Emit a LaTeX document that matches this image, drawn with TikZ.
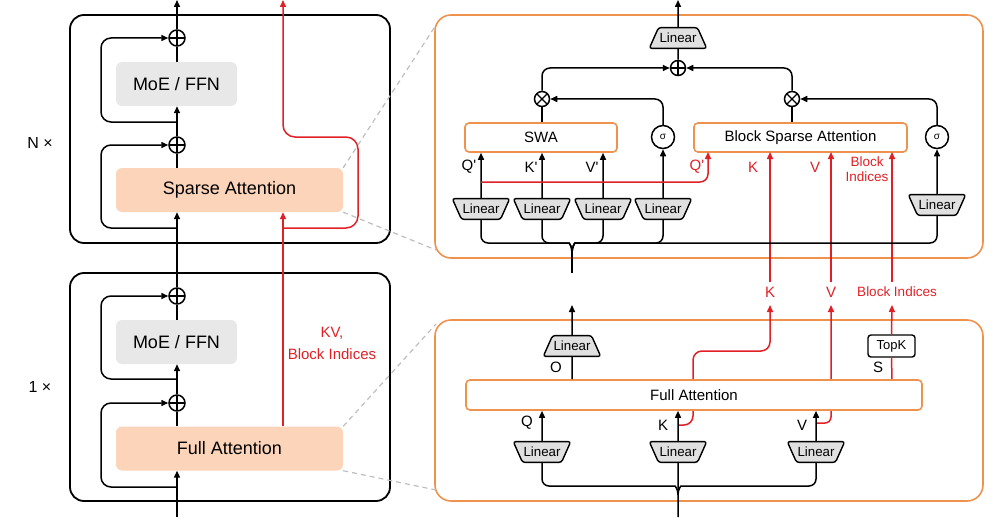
\documentclass[tikz,border=0pt]{standalone}
\usepackage{fontspec}
\setmainfont{Liberation Sans}
\usetikzlibrary{shapes.geometric,arrows.meta,calc}
\definecolor{orangec}{RGB}{238,146,78}
\definecolor{redc}{RGB}{225,32,38}
\definecolor{peach}{RGB}{251,212,185}
\definecolor{grayc}{RGB}{232,232,232}
\definecolor{linfill}{RGB}{224,224,224}
\definecolor{dashc}{RGB}{190,190,190}
\begin{document}
\begin{tikzpicture}[x=1pt,y=-1pt,
  ln/.style={line width=1.5pt,black},
  arr/.style={ln,-{Triangle[length=7pt,width=6pt]}},
  rln/.style={line width=1.5pt,redc},
  rarr/.style={rln,-{Triangle[length=7pt,width=6pt]}},
  outer/.style={draw,line width=1.8pt,rounded corners=14},
  obox/.style={draw=orangec,line width=1.6pt,rounded corners=16},
  bigbox/.style={rounded corners=6,minimum height=44,inner sep=0,font=\fontsize{18}{20}\selectfont},
  abox/.style={draw=orangec,fill=white,line width=1.6pt,rounded corners=4,minimum height=29,inner sep=0,font=\fontsize{15}{17}\selectfont},
  opl/.style={circle,draw,line width=1.5pt,minimum size=16,inner sep=0,
    path picture={\draw[line width=1.2pt] (path picture bounding box.north) -- (path picture bounding box.south)
      (path picture bounding box.west) -- (path picture bounding box.east);}},
  otm/.style={circle,draw,line width=1.5pt,minimum size=15,inner sep=0,
    path picture={\draw[line width=1.2pt] (path picture bounding box.north west) -- (path picture bounding box.south east)
      (path picture bounding box.north east) -- (path picture bounding box.south west);}},
  sig/.style={circle,draw,line width=1.5pt,minimum size=23,inner sep=0,font=\fontsize{10}{10}\selectfont},
  linU/.style={trapezium,trapezium angle=66,draw,line width=1.4pt,fill=linfill,
    rounded corners=2.5,inner xsep=1pt,inner ysep=5.5pt,font=\fontsize{13.3}{14}\selectfont},
  linD/.style={linU,trapezium left angle=114,trapezium right angle=114},
  lab/.style={inner sep=1,font=\fontsize{15}{16}\selectfont},
  rlab/.style={lab,text=redc},
  dsh/.style={draw=dashc,line width=1.2pt,dash pattern=on 5pt off 4pt}]
\useasboundingbox (0,0) rectangle (1000,532);

% ===== left panels =====
\draw[outer] (70,15) rectangle (390,243);
\draw[outer] (70,273) rectangle (390,501);
\node[font=\fontsize{16}{18}\selectfont] (nx) at (40,143) {N ×};
\node[font=\fontsize{16}{18}\selectfont] (ox) at (40,387) {1 ×};

% upper block
\node[opl] (p1) at (177,38) {};
\node[opl] (p2) at (177,145) {};
\node[bigbox,fill=grayc,minimum width=121] (moe1) at (176.5,84) {MoE / FFN};
\node[bigbox,fill=peach,minimum width=227] (sa) at (229.5,190) {Sparse Attention};
\coordinate (outL) at (177,0);
\draw[arr] (p1.north) -- (outL);
\draw[ln] (moe1.north -| p1) -- (p1.south);
\draw[arr] (p2.north) -- (moe1.south -| p2);
\draw[ln] (sa.north -| p2) -- (p2.south);
\draw[arr,rounded corners=10] (177,122) -- (101,122) -- (101,38) -- (p1.west);
\draw[arr,rounded corners=10] (177,228) -- (101,228) -- (101,145) -- (p2.west);

% lower block
\node[opl] (p3) at (177,296) {};
\node[opl] (p4) at (177,403) {};
\node[bigbox,fill=grayc,minimum width=121] (moe2) at (176.5,342) {MoE / FFN};
\node[bigbox,fill=peach,minimum width=227] (fa) at (229.5,448.5) {Full Attention};
\coordinate (inL) at (177,517);
\draw[arr] (inL) -- (fa.south -| p4);
\draw[ln] (fa.north -| p4) -- (p4.south);
\draw[arr] (p4.north) -- (moe2.south -| p4);
\draw[ln] (moe2.north -| p3) -- (p3.south);
\draw[arr] (p3.north) -- (sa.south -| p3);
\draw[arr,rounded corners=10] (177,379) -- (101,379) -- (101,296) -- (p3.west);
\draw[arr,rounded corners=10] (177,487) -- (101,487) -- (101,403) -- (p4.west);

% red path left
\coordinate (rx) at (283,0);
\draw[rarr] (fa.north -| rx) -- (sa.south -| rx);
\draw[rarr,rounded corners=12] (283,228) -- (358,228) -- (358,137) -- (283,137) -- (rx);
\node[rlab,align=center,font=\fontsize{15}{22}\selectfont] (kvl) at (332,343) {KV,\\Block Indices};

% ===== right top panel =====
\draw[obox] (435,15) rectangle (983,258);
\node[linU] (lo1) at (678,38) {Linear};
\coordinate (outR) at (678,0);
\draw[arr] (lo1.north) -- (outR);
\node[opl,minimum size=15] (pt) at (678,68) {};
\draw[ln] (pt.north) -- (lo1.south);
\node[otm] (ox1) at (542,99) {};
\node[otm] (ox2) at (792,99) {};
\draw[arr,rounded corners=8] (ox1.north) |- (pt.west);
\draw[arr,rounded corners=8] (ox2.north) |- (pt.east);
\node[abox,minimum width=152] (swa) at (541,137.5) {SWA};
\node[abox,minimum width=213] (bsa) at (800.5,137.5) {Block Sparse Attention};
\draw[ln] (swa.north -| ox1) -- (ox1.south);
\draw[ln] (bsa.north -| ox2) -- (ox2.south);
\node[sig] (sg1) at (663,137) {σ};
\node[sig] (sg2) at (937,137) {σ};
\draw[arr,rounded corners=8] (sg1.north) |- (ox1.east);
\draw[arr,rounded corners=8] (sg2.north) |- (ox2.east);

\node[linD] (l1) at (481,209) {Linear};
\node[linD] (l2) at (542,209) {Linear};
\node[linD] (l3) at (603,209) {Linear};
\node[linD] (l4) at (663,209) {Linear};
\node[linD] (l5) at (937,205) {Linear};
\draw[arr] (l1.north) -- (swa.south -| l1);
\draw[arr] (l2.north) -- (swa.south -| l2);
\draw[arr] (l3.north) -- (swa.south -| l3);
\draw[arr] (l4.north) -- (sg1.south);
\draw[arr] (l5.north) -- (sg2.south);
\node[lab] (qp) at (469,167) {Q\textquotesingle};
\node[lab] (kp) at (531,167) {K\textquotesingle};
\node[lab] (vp) at (592,167) {V\textquotesingle};

% red inputs of block sparse attention
\draw[rarr,rounded corners=8] (481,182) -- (708,182) -- (708,152);
\node[rlab] (qr) at (697,167) {Q\textquotesingle};
\node[rlab] (kr) at (753,167) {K};
\node[rlab] (vr) at (815,167) {V};
\node[rlab,align=center,font=\fontsize{13.5}{15}\selectfont] (bir) at (867,169.5) {Block\\Indices};
\draw[rarr] (770,282) -- (770,152);
\draw[rarr] (831,282) -- (831,152);
\draw[rarr] (892,282) -- (892,152);

% brace (top)
\coordinate (bt) at (572,273);
\coordinate (bc) at (572,253);
\draw[ln] (bt) -- (bc);
\draw[ln,rounded corners=7] (bc) .. controls (572,246) and (569,243) .. (562,243) -- (481,243) -- (l1.south);
\draw[ln,rounded corners=7] (bc) .. controls (572,246) and (569,243) .. (562,243) -- (542,243) -- (l2.south);
\draw[ln,rounded corners=7] (bc) .. controls (572,246) and (575,243) .. (582,243) -- (603,243) -- (l3.south);
\draw[ln,rounded corners=7] (bc) .. controls (572,246) and (575,243) .. (582,243) -- (663,243) -- (l4.south);
\draw[ln,rounded corners=7] (bc) .. controls (572,246) and (575,243) .. (582,243) -- (937,243) -- (l5.south);

% labels between panels
\node[rlab] (kl) at (770,292) {K};
\node[rlab] (vl) at (831,292) {V};
\node[rlab,font=\fontsize{13.5}{15}\selectfont] (bil) at (897,292) {Block Indices};

% ===== right bottom panel =====
\draw[obox] (435,320) rectangle (983,501);
\node[linU] (lo2) at (572,346) {Linear};
\node[linD] (lq) at (542,452) {Linear};
\node[linD] (lk) at (678,452) {Linear};
\node[linD] (lv) at (816,452) {Linear};
\node[draw,line width=1.4pt,fill=white,rounded corners=3,minimum width=47,minimum height=22,inner sep=0,
  font=\fontsize{13}{14}\selectfont] (topk) at (891.5,346) {TopK};

% red paths (behind the full attention box)
\draw[rarr,rounded corners=9] (678,425) -- (693,425) -- (693,351) -- (770,351) -- (770,305);
\draw[rarr,rounded corners=6] (816,423) -- (831,423) -- (831,305);
\draw[rln] (892,380) -- (topk.south);
\draw[rarr] (topk.north) -- (892,305);

\node[abox,minimum width=456,minimum height=30] (fa2) at (694,395) {Full Attention};
\draw[ln] (fa2.north -| lo2) -- (lo2.south);
\draw[arr] (lo2.north) -- (572,305);
\draw[arr] (lq.north) -- (fa2.south -| lq);
\draw[arr] (lk.north) -- (fa2.south -| lk);
\draw[arr] (lv.north) -- (fa2.south -| lv);
\node[lab] (ol) at (556,367) {O};
\node[lab] (ql) at (527,423) {Q};
\node[lab] (kl2) at (663,425) {K};
\node[lab] (vl2) at (802,425) {V};
\node[lab] (sl) at (878,367) {S};

% brace (bottom)
\coordinate (bb) at (678,517);
\coordinate (bc2) at (678,495);
\draw[ln] (bb) -- (lk.south);
\draw[ln,rounded corners=7] (bc2) .. controls (678,489) and (675,486) .. (668,486) -- (542,486) -- (lq.south);
\draw[ln,rounded corners=7] (bc2) .. controls (678,489) and (681,486) .. (688,486) -- (816,486) -- (lv.south);

% ===== zoom guide lines =====
\draw[dsh] (sa.north east) -- (436,25);
\draw[dsh] (sa.south east) -- (436,250);
\draw[dsh] (fa.north east) -- (436,324);
\draw[dsh] (fa.south east) -- (436,490);
\end{tikzpicture}
\end{document}
